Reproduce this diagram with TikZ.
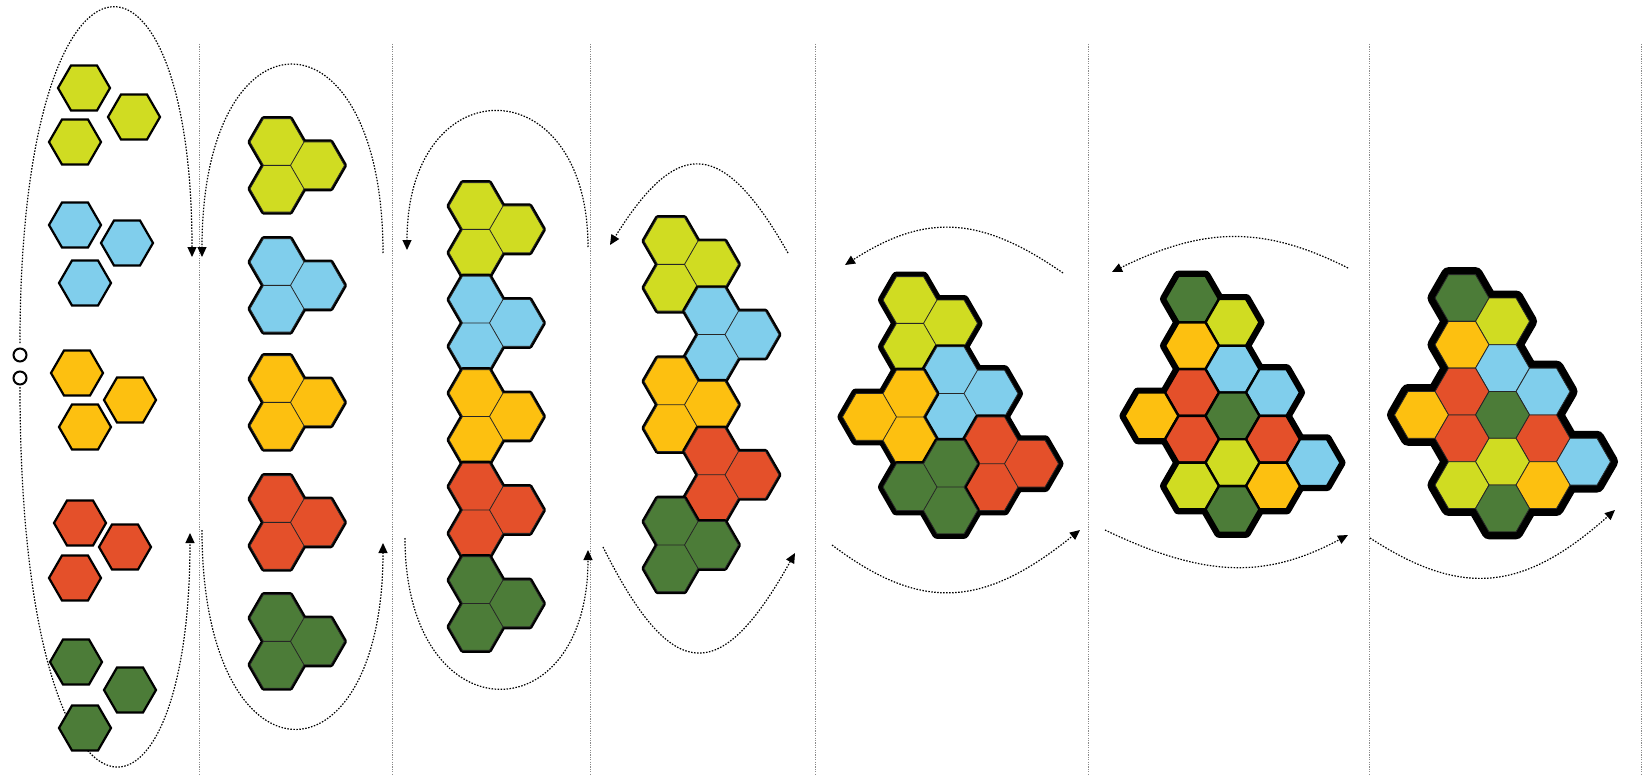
\documentclass[tikz,border=0pt]{standalone}
\usetikzlibrary{arrows.meta}
\definecolor{hY}{RGB}{208,220,34}
\definecolor{hB}{RGB}{128,206,236}
\definecolor{hO}{RGB}{253,192,16}
\definecolor{hR}{RGB}{228,80,42}
\definecolor{hG}{RGB}{76,124,56}
% grid hexagon: origin x, origin y, q, r
\newcommand\GH[4]{({#1+40.5*(#3)},{#2+46.765*((#4)+0.5*(#3))}) +(0:27) -- +(60:27) -- +(120:27) -- +(180:27) -- +(240:27) -- +(300:27) -- cycle}
% triad: ox, oy, colour, q1,r1,q2,r2,q3,r3
\newcommand\triad[9]{%
  \filldraw[tribg] \GH{#1}{#2}{#4}{#5} \GH{#1}{#2}{#6}{#7} \GH{#1}{#2}{#8}{#9};
  \filldraw[tri, fill=#3] \GH{#1}{#2}{#4}{#5} \GH{#1}{#2}{#6}{#7} \GH{#1}{#2}{#8}{#9};
}
\begin{document}
\begin{tikzpicture}[x=1pt,y=-1pt,
  flow/.style={line width=1.2pt, dash pattern=on 1.5pt off 1.5pt, -{Triangle[length=10pt,width=9pt]}},
  divider/.style={draw=black!45, line width=0.8pt, dash pattern=on 1.2pt off 1.2pt},
  single/.style={draw=black, line width=2.2pt},
  tribg/.style={fill=black, draw=black, line width=5pt, line join=round},
  tri/.style={draw=black!85, line width=0.8pt},
  outerbg/.style={fill=black, draw=black, line width=#1, line join=round},
  cellsix/.style={draw=black, line width=2.4pt},
  cellseven/.style={draw=black!85, line width=0.8pt}]
\useasboundingbox (0,0) rectangle (1647,781);
\fill[white] (0,0) rectangle (1647,781);

% column dividers
\foreach \xx in {199,392,590,815,1088,1369,1641}
  \draw[divider] (\xx,44) -- (\xx,775);

% arc end points
\coordinate (a1s) at (20,343);   \coordinate (a1e) at (192,257);
\coordinate (a2s) at (383,253);  \coordinate (a2e) at (202,257);
\coordinate (b1s) at (20,387);   \coordinate (b1e) at (190,533);
\coordinate (b2s) at (202,530);  \coordinate (b2e) at (383,543);
\coordinate (a3s) at (588,247);  \coordinate (a3e) at (407,250);
\coordinate (b3s) at (405,538);  \coordinate (b3e) at (588,550);
\coordinate (a4s) at (788,253);  \coordinate (a4e) at (610,245);
\coordinate (b4s) at (603,547);  \coordinate (b4e) at (795,553);
\coordinate (a5s) at (1063,273); \coordinate (a5e) at (845,265);
\coordinate (b5s) at (832,545);  \coordinate (b5e) at (1080,530);
\coordinate (a6s) at (1348,268); \coordinate (a6e) at (1112,272);
\coordinate (b6s) at (1105,530); \coordinate (b6e) at (1348,535);
\coordinate (b7s) at (1370,538); \coordinate (b7e) at (1615,510);

% dotted flow arcs
\draw[flow] (a1s) .. controls (20,-88) and (192,-88) .. (a1e);
\draw[flow] (a2s) .. controls (383,2) and (202,2) .. (a2e);
\draw[flow] (b1s) .. controls (20,864) and (190,864) .. (b1e);
\draw[flow] (b2s) .. controls (202,792) and (383,792) .. (b2e);
\draw[flow] (a3s) .. controls (588,66) and (407,66) .. (a3e);
\draw[flow] (b3s) .. controls (405,736) and (588,736) .. (b3e);
\draw[flow] (a4s) .. controls (722.6,138) and (678,136) .. (a4e);
\draw[flow] (b4s) .. controls (672.3,685.2) and (720.3,686.7) .. (b4e);
\draw[flow] (a5s) .. controls (979.9,215.3) and (925.4,213.3) .. (a5e);
\draw[flow] (b5s) .. controls (921,612) and (983,608.3) .. (b5e);
\draw[flow] (a6s) .. controls (1263.5,225.5) and (1204.5,226.5) .. (a6e);
\draw[flow] (b6s) .. controls (1204.8,577.9) and (1265.6,579.1) .. (b6e);
\draw[flow] (b7s) .. controls (1462.6,598.2) and (1523.8,591.2) .. (b7e);

% two small circles
\draw[line width=2pt] (20,355) circle[radius=6.5pt];
\draw[line width=2pt] (20,378) circle[radius=6.5pt];

% column 1: single hexagons
\foreach \xx/\yy/\cc in {84/88/hY,134/117/hY,75/142/hY,
  75/225/hB,127/243/hB,85/283/hB,
  77/373/hO,130/400/hO,85/427/hO,
  80/523/hR,125/547/hR,75/578/hR,
  76/662/hG,130/690/hG,85/728/hG}
  \filldraw[single, fill=\cc] (\xx,\yy) +(0:26) -- +(60:26) -- +(120:26) -- +(180:26) -- +(240:26) -- +(300:26) -- cycle;

% column 2: triads
\foreach \oy/\cc in {142/hY,262/hB,379/hO,499/hR,618/hG}
  {\triad{277}{\oy}{\cc}{0}{0}{1}{0}{0}{1}}

% column 3
\triad{476}{206}{hY}{0}{0}{1}{0}{0}{1}
\triad{476}{206}{hB}{0}{2}{1}{2}{0}{3}
\triad{476}{206}{hO}{0}{4}{1}{4}{0}{5}
\triad{476}{206}{hR}{0}{6}{1}{6}{0}{7}
\triad{476}{206}{hG}{0}{8}{1}{8}{0}{9}

% column 4
\triad{671}{241}{hY}{0}{0}{1}{0}{0}{1}
\triad{671}{241}{hB}{1}{1}{2}{1}{1}{2}
\triad{671}{241}{hO}{0}{3}{1}{3}{0}{4}
\triad{671}{241}{hR}{1}{4}{2}{4}{1}{5}
\triad{671}{241}{hG}{0}{6}{1}{6}{0}{7}

% column 5
\foreach \qq/\rr in {0/0,1/0,0/1,1/1,2/1,1/2,0/2,-1/3,0/3,2/2,3/2,2/3,1/3,0/4,1/4}
  \filldraw[outerbg=10pt] \GH{910}{300}{\qq}{\rr};
\triad{910}{300}{hY}{0}{0}{1}{0}{0}{1}
\triad{910}{300}{hB}{1}{1}{2}{1}{1}{2}
\triad{910}{300}{hO}{0}{2}{-1}{3}{0}{3}
\triad{910}{300}{hR}{2}{2}{3}{2}{2}{3}
\triad{910}{300}{hG}{1}{3}{0}{4}{1}{4}

% column 6
\foreach \qq/\rr in {0/0,1/0,0/1,1/1,2/1,1/2,0/2,-1/3,0/3,2/2,3/2,2/3,1/3,0/4,1/4}
  \filldraw[outerbg=10pt] \GH{1192}{299}{\qq}{\rr};
\foreach \qq/\rr/\cc in {0/0/hG,1/0/hY,0/1/hO,1/1/hB,2/1/hB,0/2/hR,-1/3/hO,1/2/hG,
  0/3/hR,2/2/hR,3/2/hB,1/3/hY,0/4/hY,2/3/hO,1/4/hG}
  \filldraw[cellsix, fill=\cc] \GH{1192}{299}{\qq}{\rr};

% column 7
\foreach \qq/\rr in {0/0,1/0,0/1,1/1,2/1,1/2,0/2,-1/3,0/3,2/2,3/2,2/3,1/3,0/4,1/4}
  \filldraw[outerbg=15pt] \GH{1462}{298}{\qq}{\rr};
\foreach \qq/\rr/\cc in {0/0/hG,1/0/hY,0/1/hO,1/1/hB,2/1/hB,0/2/hR,-1/3/hO,1/2/hG,
  0/3/hR,2/2/hR,3/2/hB,1/3/hY,0/4/hY,2/3/hO,1/4/hG}
  \filldraw[cellseven, fill=\cc] \GH{1462}{298}{\qq}{\rr};
\end{tikzpicture}
\end{document}
